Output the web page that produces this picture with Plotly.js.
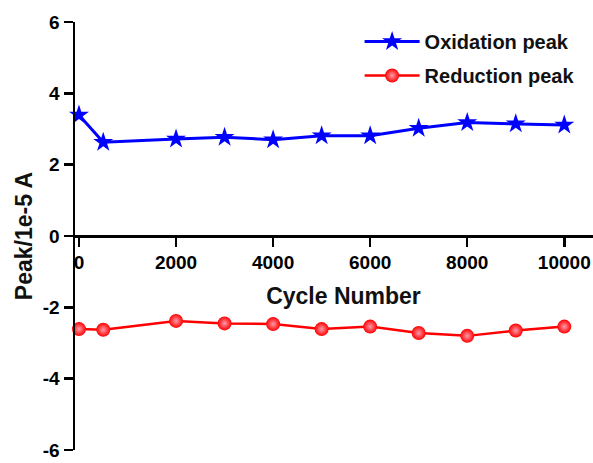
<!DOCTYPE html>
<html>
<head>
<meta charset="utf-8">
<script src="https://cdn.plot.ly/plotly-3.0.1.min.js"></script>
<style>
html, body { margin: 0; padding: 0; overflow: hidden; background: #fff; width: 593px; height: 463px; }
#chart { width: 612px; height: 463px; }
</style>
</head>
<body>
<div id="chart"></div>
<script>
const cycles = [0, 500, 2000, 3000, 4000, 5000, 6000, 7000, 8000, 9000, 10000];
const oxidationPeak = [3.39, 2.63, 2.72, 2.77, 2.70, 2.81, 2.81, 3.02, 3.18, 3.15, 3.11];
const reductionPeak = [-2.61, -2.63, -2.38, -2.45, -2.47, -2.61, -2.54, -2.72, -2.80, -2.65, -2.54];
const xTicks = [0, 2000, 4000, 6000, 8000, 10000];
const yTicks = [-6, -4, -2, 0, 2, 4, 6];

const fontFam = '"Liberation Sans", Arial, sans-serif';

const traces = [
  {
    x: cycles, y: oxidationPeak, name: 'Oxidation peak', type: 'scatter', mode: 'lines+markers',
    legendgroup: 'ox', cliponaxis: false,
    line: { color: '#0000ff', width: 3 },
    marker: { symbol: 'star', size: 15, color: '#0000ff', line: { width: 0 } }
  },
  {
    x: cycles, y: reductionPeak, name: 'Reduction peak', type: 'scatter', mode: 'lines+markers',
    legendgroup: 're', cliponaxis: false,
    line: { color: '#ff0000', width: 2.5 },
    marker: { symbol: 'circle', size: 14, color: '#ff0000', line: { width: 0 },
              gradient: { type: 'radial', color: '#ff9aa8' } }
  }
];

const layout = {
  width: 612, height: 463,
  margin: { l: 75, r: 0, t: 22, b: 13 },
  paper_bgcolor: '#ffffff', plot_bgcolor: '#ffffff',
  font: { family: fontFam, color: '#000', size: 19, weight: 'bold' },
  showlegend: true,
  legend: {
    x: 0.53, y: 1.0, xanchor: 'left', yanchor: 'top',
    bgcolor: 'rgba(0,0,0,0)', borderwidth: 0,
    font: { family: fontFam, size: 20, color: '#111', weight: 'bold' },
    traceorder: 'grouped', tracegroupgap: 5, itemwidth: 55
  },
  xaxis: {
    range: [-82, 10983],
    anchor: 'free', position: 0.5,
    tickmode: 'array', tickvals: xTicks, ticktext: xTicks.map(String),
    ticks: 'outside', ticklen: 9, tickwidth: 2.5, tickcolor: '#000',
    showline: true, linewidth: 2.5, linecolor: '#000',
    showgrid: false, zeroline: false, ticklabeloverflow: 'allow',
    tickfont: { family: fontFam, size: 19, color: '#000', weight: 'bold' },
    title: { text: 'Cycle Number', standoff: 15,
             font: { family: fontFam, size: 23, color: '#111', weight: 'bold' } }
  },
  yaxis: {
    range: [-6, 6], domain: [0, 1],
    tickmode: 'array', tickvals: yTicks, ticktext: yTicks.map(String),
    ticks: 'outside', ticklen: 9, tickwidth: 2.5, tickcolor: '#000',
    showline: true, linewidth: 2.5, linecolor: '#000',
    showgrid: false, zeroline: false, ticklabeloverflow: 'allow',
    tickfont: { family: fontFam, size: 19, color: '#000', weight: 'bold' },
    title: { text: 'Peak/1e-5 A', standoff: 4,
             font: { family: fontFam, size: 23, color: '#111', weight: 'bold' } }
  }
};

Plotly.newPlot('chart', traces, layout, { displayModeBar: false, staticPlot: true });
</script>
</body>
</html>
